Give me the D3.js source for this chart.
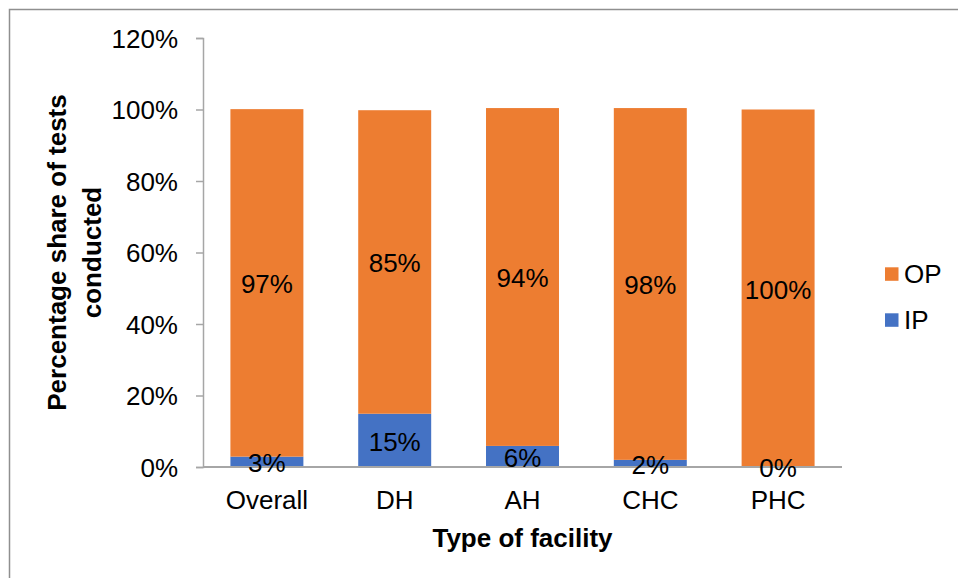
<!DOCTYPE html>
<html>
<head>
<meta charset="utf-8">
<script src="https://cdn.jsdelivr.net/npm/d3@7"></script>
<style>
  html, body { margin: 0; padding: 0; background: #fff; }
  svg { display: block; }
  text { font-family: "Liberation Sans", Arial, sans-serif; fill: #000; }
</style>
</head>
<body>
<svg id="chart" width="958" height="578"></svg>
<script>
// ---- Data ----
const categories = ["Overall", "DH", "AH", "CHC", "PHC"];
const ipValues = [2.9, 14.9, 5.9, 2.0, 0.1];
const opValues = [97.2, 84.9, 94.5, 98.4, 99.9];
const ipLabels = ["3%", "15%", "6%", "2%", "0%"];
const opLabels = ["97%", "85%", "94%", "98%", "100%"];
const seriesNames = ["OP", "IP"];
const yTicks = [0, 20, 40, 60, 80, 100, 120];
const yTitleLines = ["Percentage share of tests", "conducted"];
const xTitle = "Type of facility";

const colors = { OP: "#ED7D31", IP: "#4472C4" };

const svg = d3.select("#chart");
const W = 958, H = 578;

// outer border
svg.append("rect")
  .attr("x", 9.5).attr("y", 9.5)
  .attr("width", W + 20).attr("height", H + 20)
  .attr("fill", "none").attr("stroke", "#8f8f8f").attr("stroke-width", 1.5);

const plot = { left: 203, right: 842, top: 38, bottom: 467 };

const x = d3.scaleBand()
  .domain(categories)
  .range([plot.left, plot.right])
  .paddingInner(0.429)
  .paddingOuter(0.2145);

const y = d3.scaleLinear()
  .domain([0, 120])
  .range([plot.bottom, plot.top]);

const rows = categories.map((c, i) => ({
  cat: c, IP: ipValues[i], OP: opValues[i], ipLabel: ipLabels[i], opLabel: opLabels[i]
}));

const stack = d3.stack().keys(["IP", "OP"]);
const stacked = stack(rows);

// bars
const g = svg.append("g");
stacked.forEach(layer => {
  g.selectAll(null)
    .data(layer)
    .enter()
    .append("rect")
    .attr("x", d => x(d.data.cat))
    .attr("width", x.bandwidth())
    .attr("y", d => y(d[1]))
    .attr("height", d => y(d[0]) - y(d[1]))
    .attr("fill", colors[layer.key]);
});

// y axis
const yAxis = d3.axisLeft(y)
  .tickValues(yTicks)
  .tickFormat(d => d + "%")
  .tickSize(7)
  .tickPadding(18);
const ya = svg.append("g")
  .attr("transform", `translate(${plot.left},0)`)
  .call(yAxis);
ya.select(".domain").attr("stroke", "#a6a6a6").attr("stroke-width", 1.5);
ya.selectAll(".tick line").attr("stroke", "#a6a6a6").attr("stroke-width", 1.5);
ya.selectAll(".tick text")
  .attr("font-size", 26)
  .attr("font-family", "Liberation Sans, Arial, sans-serif")
  .attr("fill", "#000")
  .attr("dy", null)
  .attr("dominant-baseline", "central");

// x axis
const xAxis = d3.axisBottom(x).tickSize(0).tickPadding(0);
const xa = svg.append("g")
  .attr("transform", `translate(0,${plot.bottom})`)
  .call(xAxis);
xa.select(".domain").attr("stroke", "#a6a6a6").attr("stroke-width", 2)
  .attr("d", `M${plot.left},0H${plot.right}`);
xa.selectAll(".tick text")
  .attr("font-size", 26)
  .attr("font-family", "Liberation Sans, Arial, sans-serif")
  .attr("fill", "#000")
  .attr("dy", null)
  .attr("y", 42);

// data labels
const labelG = svg.append("g");
stacked.forEach(layer => {
  labelG.selectAll(null)
    .data(layer)
    .enter()
    .append("text")
    .attr("x", d => x(d.data.cat) + x.bandwidth() / 2)
    .attr("y", d => (y(d[0]) + y(d[1])) / 2 + 10.5)
    .attr("text-anchor", "middle")
    .attr("font-size", 26)
    .text(d => layer.key === "IP" ? d.data.ipLabel : d.data.opLabel);
});

// y title
const yt = svg.append("text")
  .attr("transform", `translate(66,${(plot.top + plot.bottom) / 2}) rotate(-90)`)
  .attr("text-anchor", "middle")
  .attr("font-size", 26)
  .attr("font-weight", "bold");
yTitleLines.forEach((line, i) => {
  yt.append("tspan").attr("x", 0).attr("y", i * 35).text(line);
});

// x title
svg.append("text")
  .attr("x", (plot.left + plot.right) / 2)
  .attr("y", 546.5)
  .attr("text-anchor", "middle")
  .attr("font-size", 26)
  .attr("font-weight", "bold")
  .text(xTitle);

// legend
const legend = svg.append("g");
const legendY = [274, 320];
seriesNames.forEach((name, i) => {
  legend.append("rect")
    .attr("x", 885).attr("y", legendY[i] - 6.7)
    .attr("width", 13.5).attr("height", 13.5)
    .attr("fill", colors[name]);
  legend.append("text")
    .attr("x", 904).attr("y", legendY[i] + 9.3)
    .attr("font-size", 26)
    .text(name);
});
</script>
</body>
</html>
